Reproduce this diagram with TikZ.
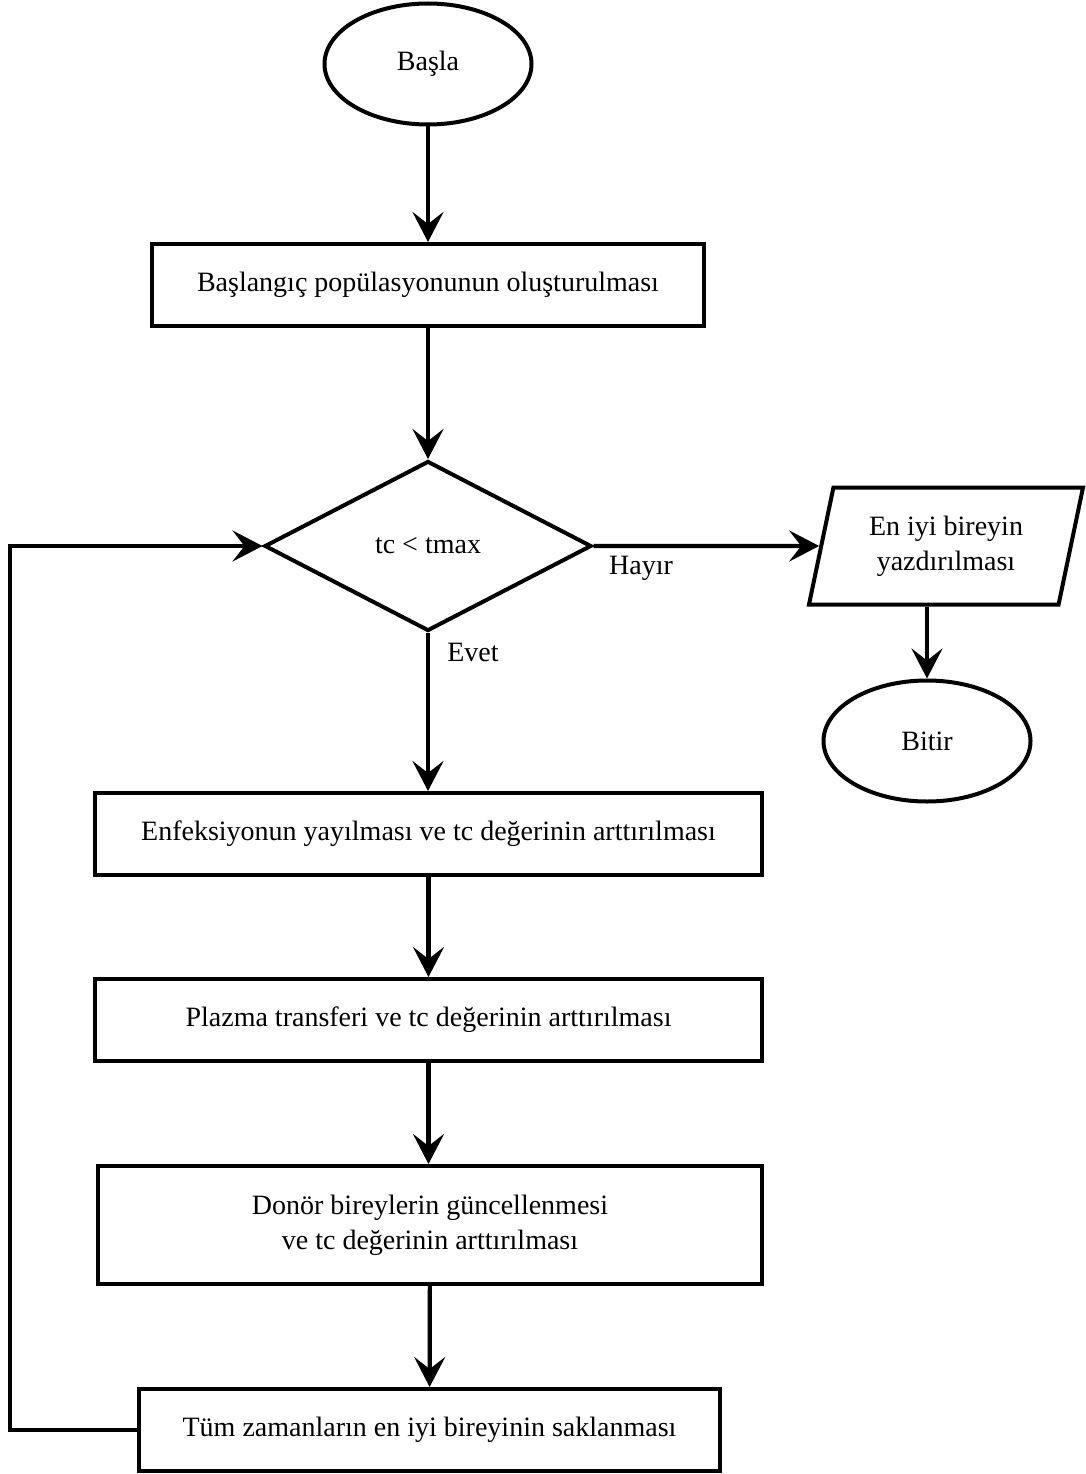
\documentclass[tikz,border=0pt]{standalone}
\usepackage{fontspec}
\setmainfont{Liberation Serif}
\usetikzlibrary{shapes.geometric,arrows.meta}
\begin{document}
\begin{tikzpicture}[x=1pt,y=-1pt,
  every node/.style={font=\fontsize{28}{35}\selectfont, inner sep=0pt},
  line/.style={line width=4.2pt},
  flow/.style={line, -{Stealth[length=30pt,width=31pt,inset=12pt]}},
  procbox/.style={draw, line width=4pt, rectangle, minimum height=82pt, align=center},
  term/.style={draw, line width=4pt, ellipse, minimum width=207pt, minimum height=121pt},
  decide/.style={draw, line width=4pt, diamond, minimum width=327pt, minimum height=170pt},
  io/.style={draw, line width=4pt, trapezium, trapezium left angle=68, trapezium right angle=112,
             trapezium stretches body, minimum width=274pt, minimum height=117pt, align=center},
  lbl/.style={font=\fontsize{28}{35}\selectfont}
]
\useasboundingbox (0,0) rectangle (1086,1474);

% nodes
\node[term] (basla) at (428,64) {Başla};
\node[procbox, minimum width=552pt] (init) at (428,285) {Başlangıç popülasyonunun oluşturulması};
\node[decide] (karar) at (428,546) {tc < tmax};
\node[io] (yaz) at (946,546) {En iyi bireyin\\yazdırılması};
\node[term] (bitir) at (927,741) {Bitir};
\node[procbox, minimum width=667pt] (enf) at (428.5,834) {Enfeksiyonun yayılması ve tc değerinin arttırılması};
\node[procbox, minimum width=667pt] (plz) at (428.5,1020) {Plazma transferi ve tc değerinin arttırılması};
\node[procbox, minimum width=664pt, minimum height=118pt] (donor) at (430,1225) {Donör bireylerin güncellenmesi\\ve tc değerinin arttırılması};
\node[procbox, minimum width=581pt] (tum) at (429.5,1430) {Tüm zamanların en iyi bireyinin saklanması};

% branch labels
\node[lbl] (hayir) at (641,568) {Hayır};
\node[lbl] (evet) at (473,652) {Evet};

% connectors
\coordinate (loopx) at (10,0);
\draw[flow] (basla) -- (init);
\draw[flow] (init) -- (karar);
\draw[flow] (karar.east) -- (yaz.west);
\draw[flow] (yaz.south -| bitir.north) -- (bitir.north);
\draw[flow] (karar.south) -- (enf.north -| karar.south);
\draw[flow] (enf) -- (plz);
\draw[flow] (plz.south) -- (plz.south |- donor.north);
\draw[flow] (donor) -- (tum);
\draw[flow] (tum.west) -- (tum.west -| loopx) |- (karar.west);
\end{tikzpicture}
\end{document}
